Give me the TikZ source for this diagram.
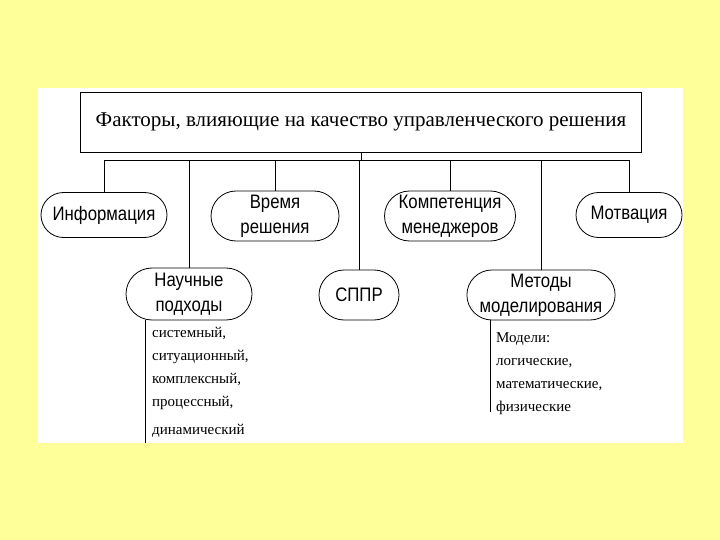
\documentclass[tikz,border=0pt]{standalone}
\usepackage{fontspec}
\setmainfont{Liberation Serif}
\setsansfont{Liberation Sans}
\newfontfamily\condsans[FakeStretch=0.86]{Liberation Sans}
\usetikzlibrary{shapes.misc}

\definecolor{slideyellow}{RGB}{255,255,153}
\tikzset{
  factor/.style={draw, rounded rectangle, line width=0.8pt, fill=white,
    font=\condsans\fontsize{19.5}{25}\selectfont, align=center, inner sep=1pt},
  listtext/.style={anchor=north west, align=left, inner sep=0pt,
    font=\rmfamily\fontsize{15}{23}\selectfont},
  link/.style={line width=0.8pt}
}

\begin{document}
\begin{tikzpicture}[x=1pt, y=-1pt]
\fill[slideyellow] (0,0) rectangle (720,540);
\fill[white] (38,88) rectangle (683,443);

\node[draw, line width=0.8pt, minimum width=561pt, minimum height=60pt,
  font=\rmfamily\fontsize{21}{24}\selectfont] (title) at (361,122)
  {Факторы, влияющие на качество управленческого решения};

% first row
\node[factor, minimum width=128pt, minimum height=45pt] (info) at (104,215) {Информация};
\node[factor, minimum width=130pt, minimum height=50pt] (time) at (275,216) {Время\\решения};
\node[factor, minimum width=133pt, minimum height=50pt] (comp) at (450,216) {Компетенция\\менеджеров};
\node[factor, minimum width=108pt, minimum height=45pt] (motiv) at (629,215) {Мотвация};

% second row
\node[factor, minimum width=128pt, minimum height=52pt] (sci) at (189,294) {Научные\\подходы};
\node[factor, minimum width=82pt, minimum height=50pt] (dss) at (359,295) {СППР};
\node[factor, minimum width=142pt, minimum height=50pt] (model) at (541,295) {Методы\\моделирования};

% bus
\coordinate (busL) at (104,160);
\coordinate (busR) at (629,160);
\draw[link] (title.south) -- (title.south |- busL);
\draw[link] (busL) -- (busR);
\foreach \n in {info,time,comp,motiv,sci,dss,model}
  \draw[link] (\n.north) -- (\n.north |- busL);

% lists
\coordinate (sciEnd) at (145,443);
\draw[link] (sciEnd |- sci.south) -- (sciEnd);
\node[listtext] (sciList) at (152,327)
  {системный,\\ситуационный,\\комплексный,\\процессный,\\[5pt]динамический};

\coordinate (modelEnd) at (490,412);
\draw[link] (modelEnd |- model.south) -- (modelEnd);
\node[listtext] (modelList) at (496,332)
  {Модели:\\логические,\\математические,\\физические};
\end{tikzpicture}
\end{document}
